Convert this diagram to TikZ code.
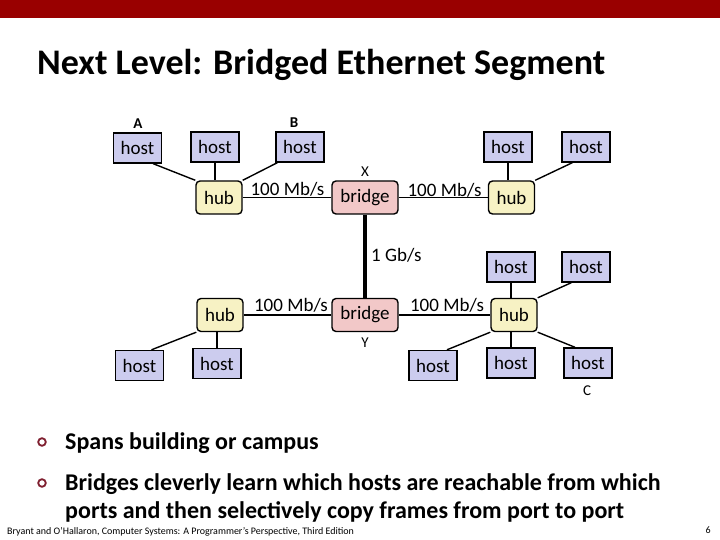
\documentclass[tikz,border=0pt]{standalone}
\usepackage{fontspec}
\setmainfont{Carlito}
\usetikzlibrary{backgrounds}
\definecolor{barred}{HTML}{990000}
\definecolor{hostc}{HTML}{CCCCEE}
\definecolor{hubc}{HTML}{F7F2C4}
\definecolor{bridgec}{HTML}{F2C8C8}
\definecolor{bulc}{HTML}{7F1F2F}
\tikzset{
  box/.style={draw=black, line width=1.4pt, inner sep=0pt, font=\fontsize{19}{21}\selectfont},
  hostbox/.style={box, fill=hostc, minimum width=48pt, minimum height=30pt},
  hubbox/.style={box, fill=hubc, rounded corners=4pt, minimum width=46pt, minimum height=33pt},
  bridgebox/.style={box, fill=bridgec, rounded corners=4pt, minimum width=66pt, minimum height=33pt},
  link/.style={line width=1.4pt, black},
  fatlink/.style={line width=4pt, black},
  rate/.style={font=\fontsize{19}{21}\selectfont, inner sep=0pt},
  tag/.style={font=\fontsize{15}{17}\selectfont, inner sep=0pt},
  btag/.style={font=\fontsize{15}{17}\selectfont\bfseries, inner sep=0pt},
}
\begin{document}
\begin{tikzpicture}[x=1pt, y=-1pt]
\useasboundingbox (0,0) rectangle (720,540);
\fill[barred] (0,0) rectangle (720,18);
\node[anchor=base west, inner sep=0pt, font=\fontsize{36}{40}\selectfont\bfseries] (title) at (37,75) {Next Level: Bridged Ethernet Segment};

% top-left segment
\node[hostbox] (hA) at (137.5,148) {host};
\node[hostbox] (h2) at (215,147) {host};
\node[hostbox] (hB) at (300,147) {host};
\node[hubbox] (hub1) at (219,197.5) {hub};
\node[bridgebox] (bX) at (365,197.5) {bridge};
\node[btag] (lA) at (138,124) {A};
\node[btag] (lB) at (294,123) {B};
\node[tag] (lX) at (365,172) {X};

% top-right segment
\node[hostbox] (h3) at (508,147) {host};
\node[hostbox] (h4) at (586,147) {host};
\node[hubbox] (hub2) at (511.5,197.5) {hub};

% bottom-left segment
\node[bridgebox] (bY) at (365,315) {bridge};
\node[hubbox] (hub3) at (220,315) {hub};
\node[hostbox] (h5) at (139.5,365.5) {host};
\node[hostbox] (h6) at (217,363.5) {host};
\node[tag] (lY) at (365,343) {Y};

% bottom-right segment
\node[hubbox] (hub4) at (514,315) {hub};
\node[hostbox] (h7) at (511,267) {host};
\node[hostbox] (h8) at (586,267) {host};
\node[hostbox] (h9) at (433,365.5) {host};
\node[hostbox] (h10) at (511,363) {host};
\node[hostbox] (h11) at (588,363) {host};
\node[tag] (lC) at (587,391) {C};

% rate labels
\node[rate] (r1) at (287.5,189) {100 Mb/s};
\node[rate] (r2) at (444.5,190) {100 Mb/s};
\node[rate] (r3) at (291,305) {100 Mb/s};
\node[rate] (r4) at (447,305) {100 Mb/s};
\node[rate, anchor=west] (r5) at (371,255) {1 Gb/s};

\begin{scope}[on background layer]
  \draw[link] ([xshift=-9pt]hA.south east) -- (hub1.north west);
  \draw[link] (h2.south) -- (h2.south |- hub1.north);
  \draw[link] ([xshift=2pt]hB.south west) -- (hub1.north east);
  \draw[link] (hub1.east) -- (bX.west);
  \draw[link] (bX.east) -- (hub2.west);
  \draw[link] (h3.south) -- (h3.south |- hub2.north);
  \draw[link] ([xshift=11pt]h4.south west) -- (hub2.north east);
  \draw[fatlink] (bX.south) -- (bY.north);
  \draw[link] (hub3.east) -- (bY.west);
  \draw[link] (bY.east) -- (hub4.west);
  \draw[link] (hub3.south west) -- ([xshift=12pt]h5.north);
  \draw[link] (h6.north) -- (h6.north |- hub3.south);
  \draw[link] (h7.south) -- (h7.south |- hub4.north);
  \draw[link] ([xshift=10pt]h8.south west) -- (hub4.north east);
  \draw[link] (hub4.south west) -- ([xshift=14pt]h9.north);
  \draw[link] (h10.north) -- (h10.north |- hub4.south);
  \draw[link] (hub4.south east) -- ([xshift=-13pt]h11.north);
\end{scope}

% bullets
\draw[bulc, line width=1.8pt] (42,442) circle (3.8pt);
\draw[bulc, line width=1.8pt] (42,483) circle (3.8pt);
\begin{scope}[every node/.style={anchor=base west, inner sep=0pt, font=\fontsize{24}{28}\selectfont\bfseries}]
\node (t1) at (65,449) {Spans building or campus};
\node (t2) at (65,490) {Bridges cleverly learn which hosts are reachable from which};
\node (t3) at (65,518) {ports and then selectively copy frames from port to port};
\end{scope}
\node[anchor=base west, inner sep=0pt, font=\fontsize{10}{11}\selectfont] (foot) at (7,534) {Bryant and O'Hallaron, Computer Systems: A Programmer's Perspective, Third Edition};
\node[anchor=base east, inner sep=0pt, font=\fontsize{10}{11}\selectfont] (pg) at (711,533) {6};
\end{tikzpicture}
\end{document}
